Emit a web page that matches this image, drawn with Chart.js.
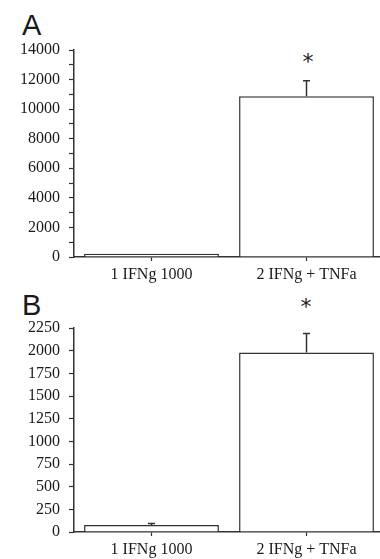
<!DOCTYPE html>
<html>
<head>
<meta charset="utf-8">
<script src="https://cdn.jsdelivr.net/npm/chart.js@4.4.1/dist/chart.umd.min.js"></script>
<style>
  html, body { margin: 0; padding: 0; background: #fff; overflow: hidden; }
  body { width: 380px; height: 559px; position: relative; }
  canvas { position: absolute; left: 0; }
  .panel { position: absolute; font-family: 'Liberation Sans', Arial, sans-serif; font-size: 29px; line-height: 1; color: #1a1a1a; }
  .star { position: absolute; width: 40px; text-align: center; font-family: 'DejaVu Sans', sans-serif; font-size: 22px; line-height: 1; color: #222; }
</style>
</head>
<body>
<div class="panel" style="left:22px; top:11px;">A</div>
<div class="panel" style="left:22px; top:291px;">B</div>
<div class="star" style="left:288px; top:51px;">*</div>
<div class="star" style="left:286px; top:296px;">*</div>
<canvas id="chartA" width="384" height="292" style="top:0px;"></canvas>
<canvas id="chartB" width="384" height="277" style="top:282px;"></canvas>
<script>
//// data

let categories = ['1 IFNg 1000', '2 IFNg + TNFa'];

let valuesA = [220, 10870];
let errorsA = [0, 1050];
let ticksMaxA = 14000;

let valuesB = [77, 1979];
let errorsB = [18, 210];
let ticksMaxB = 2250;

let inkColor = '#333';
let textColor = '#1a1a1a';

Chart.defaults.font.family = "'Liberation Serif', 'Times New Roman', serif";
Chart.defaults.font.size = 16;
Chart.defaults.color = textColor;

//// error bars drawn through the y scale

let errorBarPlugin = {
    id: 'errorBars',
    afterDatasetsDraw(chart) {
        let ctx = chart.ctx;
        let yScale = chart.scales.y;
        let meta = chart.getDatasetMeta(0);
        let values = chart.data.datasets[0].data;
        let errors = chart.data.datasets[0].errors;
        ctx.save();
        ctx.strokeStyle = inkColor;
        ctx.lineWidth = 1.5;
        for (let i = 0; i < values.length; i++) {
            if (!errors[i]) {
                continue;
            }
            let x = meta.data[i].x;
            let yBar = yScale.getPixelForValue(values[i]);
            let yTop = yScale.getPixelForValue(values[i] + errors[i]);
            ctx.beginPath();
            ctx.moveTo(x, yBar);
            ctx.lineTo(x, yTop);
            ctx.moveTo(x - 3.5, yTop);
            ctx.lineTo(x + 3.5, yTop);
            ctx.stroke();
        }
        ctx.restore();
    }
};

function makeChart(canvasId, values, errors, maxValue, stepSize, labelEvery, topPad, xHeight) {
    let ctx = document.getElementById(canvasId).getContext('2d');
    return new Chart(ctx, {
        type: 'bar',
        data: {
            labels: categories,
            datasets: [{
                data: values,
                errors: errors,
                backgroundColor: '#fff',
                borderColor: inkColor,
                borderWidth: 1.5,
                categoryPercentage: 1,
                barPercentage: 0.87
            }]
        },
        options: {
            responsive: false,
            animation: false,
            events: [],
            layout: { padding: { top: topPad, right: 0, bottom: 0, left: 0 } },
            plugins: { legend: { display: false }, tooltip: { enabled: false } },
            scales: {
                x: {
                    grid: { offset: false, drawOnChartArea: false, tickLength: 4, tickColor: inkColor, tickWidth: 1.2 },
                    border: { color: inkColor, width: 1.5 },
                    ticks: { padding: 4, color: textColor, maxRotation: 0 },
                    afterFit: function(scale) { scale.height = xHeight; }
                },
                y: {
                    min: 0,
                    max: maxValue,
                    grid: { drawOnChartArea: false, tickLength: 5, tickColor: inkColor, tickWidth: 1.2 },
                    border: { color: inkColor, width: 1.5 },
                    ticks: {
                        stepSize: stepSize,
                        autoSkip: false,
                        padding: 9,
                        color: textColor,
                        callback: function(value) {
                            return value % labelEvery === 0 ? String(value) : '';
                        }
                    },
                    afterFit: function(scale) { scale.width = 74; }
                }
            }
        },
        plugins: [errorBarPlugin]
    });
}

makeChart('chartA', valuesA, errorsA, ticksMaxA, 1000, 2000, 50, 35);
makeChart('chartB', valuesB, errorsB, ticksMaxB, 250, 250, 46, 27);
</script>
</body>
</html>
